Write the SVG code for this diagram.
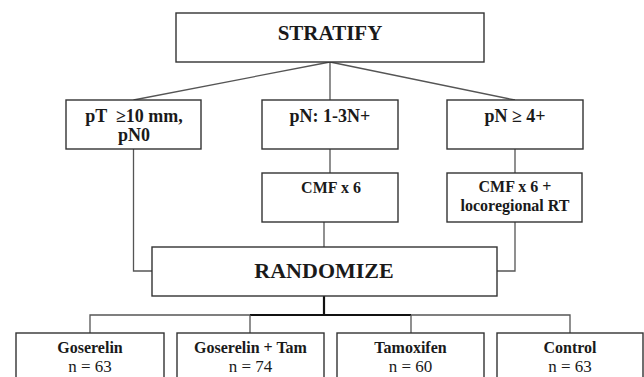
<svg xmlns="http://www.w3.org/2000/svg" width="644" height="377" viewBox="0 0 644 377">
<style>
.box{fill:#fff;stroke:#333;stroke-width:1.4}
.ln{fill:none;stroke:#555;stroke-width:1.3}
.bus{fill:none;stroke:#111;stroke-width:2.2}
.t{font-family:'Liberation Serif','Times New Roman',serif;fill:#1a1a1a;text-anchor:middle}
.b{font-weight:bold}
</style>
<rect width="644" height="377" fill="#fff"/>
<g id="connectors">
<path class="ln" d="M330,62 L133.5,100 M330,62 L330,100 M330,62 L515,100"/>
<path class="ln" d="M330,149 L330,173 M515,149 L515,173"/>
<path class="ln" d="M133.5,149 L133.5,271 L152,271 M515,222 L515,271 L497,271"/>
<path class="ln" d="M324,222 L324,247"/>
<path class="bus" d="M324,296 L324,315 M250,315 L411,315"/>
<path class="ln" d="M90,333 L90,315 L250,315 M250,315 L250,333 M411,315 L570,315 L570,333 M411,315 L411,333"/>
</g>
<g id="stratify"><rect class="box" x="176" y="13" width="308" height="49"/><text class="t b" x="330" y="40" font-size="21">STRATIFY</text></g>
<g id="pt"><rect class="box" x="66" y="100" width="135" height="49"/><text class="t b" x="134" y="122" font-size="18" xml:space="preserve">pT  ≥10 mm,</text><text class="t b" x="134" y="141" font-size="18">pN0</text></g>
<g id="pn13"><rect class="box" x="262" y="100" width="136" height="49"/><text class="t b" x="330" y="122" font-size="18">pN: 1-3N+</text></g>
<g id="pn4"><rect class="box" x="447" y="100" width="136" height="49"/><text class="t b" x="515" y="122" font-size="18">pN ≥ 4+</text></g>
<g id="cmf"><rect class="box" x="262" y="173" width="136" height="49"/><text class="t b" x="331" y="193" font-size="16">CMF x 6</text></g>
<g id="cmfrt"><rect class="box" x="447" y="173" width="135" height="49"/><text class="t b" x="515" y="192" font-size="16">CMF x 6 +</text><text class="t b" x="515" y="211" font-size="16">locoregional RT</text></g>
<g id="randomize"><rect class="box" x="152" y="247" width="345" height="49"/><text class="t b" x="324" y="278" font-size="22">RANDOMIZE</text></g>
<g id="goserelin"><rect class="box" x="16" y="333" width="148" height="60"/><text class="t b" x="90" y="353" font-size="16">Goserelin</text><text class="t" x="90" y="372" font-size="17">n = 63</text></g>
<g id="gostam"><rect class="box" x="177" y="333" width="147" height="60"/><text class="t b" x="250.5" y="353" font-size="16">Goserelin + Tam</text><text class="t" x="250.5" y="372" font-size="17">n = 74</text></g>
<g id="tamoxifen"><rect class="box" x="337" y="333" width="147" height="60"/><text class="t b" x="410.5" y="353" font-size="16">Tamoxifen</text><text class="t" x="410.5" y="372" font-size="17">n = 60</text></g>
<g id="control"><rect class="box" x="497" y="333" width="146" height="60"/><text class="t b" x="570" y="353" font-size="16">Control</text><text class="t" x="570" y="372" font-size="17">n = 63</text></g>
</svg>
